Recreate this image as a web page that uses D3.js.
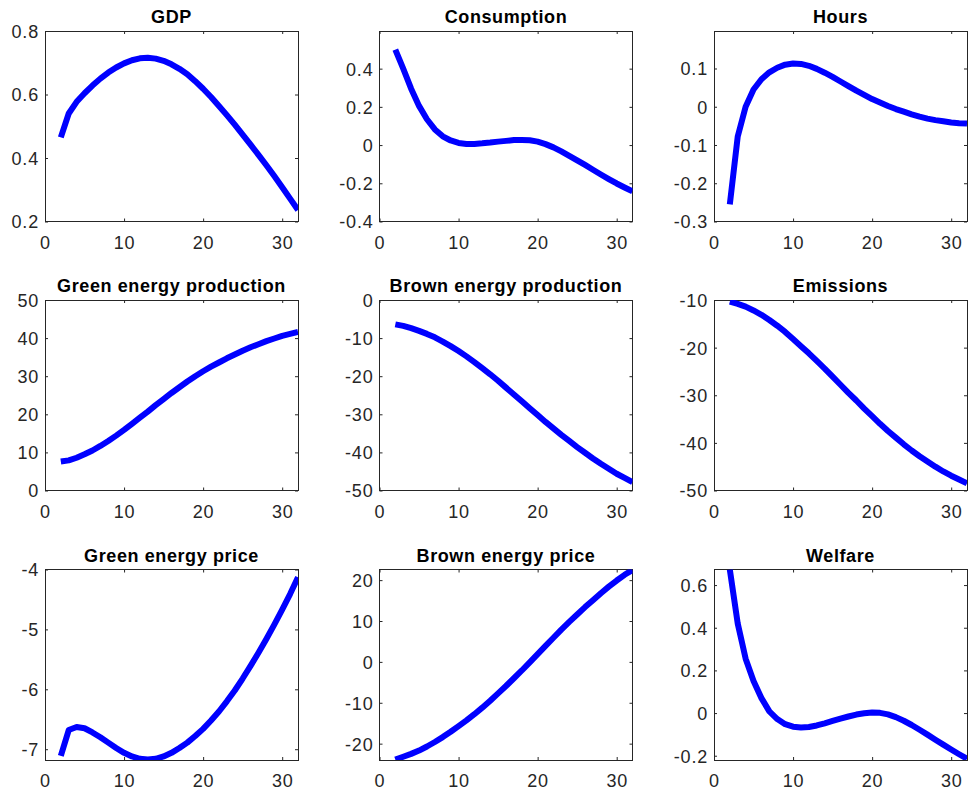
<!DOCTYPE html>
<html>
<head>
<meta charset="utf-8">
<script src="https://cdn.jsdelivr.net/npm/d3@7"></script>
<style>
  html, body { margin: 0; padding: 0; background: #ffffff; }
  svg { display: block; }
</style>
</head>
<body>
<svg id="chart" width="968" height="796"></svg>
<script>
// ---------------- DATA ----------------
const periods = [2,3,4,5,6,7,8,9,10,11,12,13,14,15,16,17,18,19,20,21,22,23,24,25,26,27,28,29,30,31,32];

const titles = ["GDP", "Consumption", "Hours",
                "Green energy production", "Brown energy production", "Emissions",
                "Green energy price", "Brown energy price", "Welfare"];

const gdp = [0.465,0.540,0.577,0.604,0.628,0.650,0.669,0.685,0.698,0.708,0.714,0.716,0.713,0.706,0.695,0.681,
             0.664,0.642,0.618,0.592,0.564,0.535,0.505,0.474,0.442,0.410,0.377,0.343,0.308,0.272,0.236];
const consumption = [0.50,0.40,0.295,0.205,0.135,0.082,0.046,0.024,0.011,0.006,0.006,0.009,0.013,0.018,0.022,0.026,
             0.027,0.025,0.018,0.005,-0.012,-0.033,-0.056,-0.080,-0.104,-0.129,-0.154,-0.178,-0.201,-0.222,-0.242];
const hours = [-0.255,-0.078,0.000,0.045,0.072,0.090,0.102,0.110,0.113,0.112,0.107,0.099,0.089,0.078,0.066,0.054,
             0.042,0.031,0.020,0.011,0.002,-0.006,-0.013,-0.020,-0.026,-0.031,-0.035,-0.038,-0.041,-0.043,-0.044];
const greenProd = [7.6,7.9,8.6,9.5,10.5,11.7,13.0,14.4,15.9,17.5,19.1,20.7,22.4,24.0,25.6,27.1,
             28.6,30.0,31.3,32.5,33.6,34.7,35.7,36.7,37.6,38.4,39.2,39.9,40.6,41.1,41.6];
const brownProd = [-6.4,-6.8,-7.4,-8.1,-8.9,-9.8,-10.9,-12.1,-13.4,-14.8,-16.3,-17.9,-19.5,-21.2,-23.0,-24.8,
             -26.6,-28.4,-30.2,-32.0,-33.7,-35.4,-37.0,-38.6,-40.1,-41.6,-43.0,-44.3,-45.6,-46.7,-47.8];
const emissions = [-10.35,-10.8,-11.4,-12.2,-13.1,-14.2,-15.4,-16.7,-18.2,-19.7,-21.2,-22.8,-24.4,-26.1,-27.8,-29.5,
             -31.1,-32.8,-34.4,-36.0,-37.5,-38.9,-40.3,-41.6,-42.8,-43.9,-45.0,-46.0,-46.9,-47.7,-48.5];
const greenPrice = [-7.11,-6.68,-6.63,-6.65,-6.72,-6.80,-6.89,-6.98,-7.06,-7.12,-7.16,-7.17,-7.16,-7.12,-7.06,-6.98,
             -6.89,-6.78,-6.66,-6.52,-6.37,-6.20,-6.02,-5.82,-5.61,-5.39,-5.16,-4.92,-4.67,-4.41,-4.13];
const brownPrice = [-23.9,-23.2,-22.5,-21.7,-20.7,-19.6,-18.4,-17.1,-15.7,-14.3,-12.8,-11.2,-9.5,-7.7,-5.9,-4.0,
             -2.1,-0.1,1.9,3.9,5.9,7.9,9.8,11.6,13.4,15.1,16.8,18.4,19.9,21.3,22.5];
const welfare = [0.673,0.42,0.255,0.15,0.07,0.008,-0.028,-0.052,-0.064,-0.068,-0.065,-0.058,-0.048,-0.037,-0.026,-0.016,
             -0.007,-0.001,0.003,0.001,-0.006,-0.019,-0.036,-0.056,-0.078,-0.101,-0.125,-0.148,-0.171,-0.193,-0.214];

const series = [gdp, consumption, hours, greenProd, brownProd, emissions, greenPrice, brownPrice, welfare];

// axis limits and tick labels
const yLimits = [[0.2,0.8],[-0.4,0.597],[-0.3,0.198],
                 [0,50],[-50,0],[-50,-10],
                 [-7.18,-4],[-24,22.6],[-0.22,0.673]];
const yTicks = [[0.2,0.4,0.6,0.8],[-0.4,-0.2,0,0.2,0.4],[-0.3,-0.2,-0.1,0,0.1],
                [0,10,20,30,40,50],[-50,-40,-30,-20,-10,0],[-50,-40,-30,-20,-10],
                [-7,-6,-5,-4],[-20,-10,0,10,20],[-0.2,0,0.2,0.4,0.6]];
const xLimits = [0, 32];
const xTicks = [0, 10, 20, 30];

// ---------------- LAYOUT ----------------
const colLeft = [45, 379.5, 714];
const rowTop = [31, 300, 569.5];
const pw = 253, ph = 190.5;
const axisColor = "#262626";
const tickLen = 3;
const fontFam = "'Liberation Sans', Arial, Helvetica, sans-serif";

const svg = d3.select("#chart");
svg.append("rect").attr("width", 968).attr("height", 796).attr("fill", "#fff");

function fmt(v) {
  if (v === 0) return "0";
  return String(v);
}

series.forEach((vals, i) => {
  const r = Math.floor(i / 3), c = i % 3;
  const left = colLeft[c], top = rowTop[r];
  const x = d3.scaleLinear().domain(xLimits).range([0, pw]);
  const y = d3.scaleLinear().domain(yLimits[i]).range([ph, 0]);

  const g = svg.append("g").attr("transform", `translate(${left},${top})`);

  const cid = "clip" + i;
  g.append("clipPath").attr("id", cid)
    .append("rect").attr("x", 0).attr("y", 0).attr("width", pw).attr("height", ph);

  g.append("rect").attr("x", 0).attr("y", 0).attr("width", pw).attr("height", ph)
    .attr("fill", "none").attr("stroke", axisColor).attr("stroke-width", 1)
    .attr("shape-rendering", "crispEdges");

  const xb = d3.axisBottom(x).tickValues(xTicks).tickSize(-tickLen).tickPadding(0).tickFormat(fmt);
  const xa = g.append("g").attr("transform", `translate(0,${ph})`).call(xb);
  xa.select(".domain").remove();
  xa.selectAll(".tick line").attr("stroke", axisColor);
  xa.selectAll(".tick text").attr("y", 27).attr("dy", null);
  const xt = d3.axisTop(x).tickValues(xTicks).tickSize(-tickLen).tickFormat("");
  const xta = g.append("g").call(xt);
  xta.select(".domain").remove();
  xta.selectAll(".tick line").attr("stroke", axisColor);

  const yl = d3.axisLeft(y).tickValues(yTicks[i]).tickSize(-tickLen).tickPadding(0).tickFormat(fmt);
  const ya = g.append("g").call(yl);
  ya.select(".domain").remove();
  ya.selectAll(".tick line").attr("stroke", axisColor);
  ya.selectAll(".tick text").attr("x", -6).attr("dy", "0.36em");
  const yr = d3.axisRight(y).tickValues(yTicks[i]).tickSize(-tickLen).tickFormat("");
  const yra = g.append("g").attr("transform", `translate(${pw},0)`).call(yr);
  yra.select(".domain").remove();
  yra.selectAll(".tick line").attr("stroke", axisColor);

  g.selectAll(".tick text")
    .attr("fill", axisColor)
    .attr("font-family", fontFam)
    .attr("font-size", 18)
    .attr("letter-spacing", "0.8px");

  const line = d3.line().x((d, k) => x(periods[k])).y(d => y(d));
  g.append("path").datum(vals)
    .attr("clip-path", `url(#${cid})`)
    .attr("d", line)
    .attr("fill", "none")
    .attr("stroke", "#0000ff")
    .attr("stroke-width", 6)
    .attr("stroke-linejoin", "round")
    .attr("stroke-linecap", "butt");

  g.append("text")
    .attr("x", pw / 2).attr("y", -8)
    .attr("text-anchor", "middle")
    .attr("font-family", fontFam)
    .attr("font-weight", "bold")
    .attr("font-size", 18)
    .attr("letter-spacing", "0.6px")
    .attr("fill", "#000")
    .text(titles[i]);
});
</script>
</body>
</html>
